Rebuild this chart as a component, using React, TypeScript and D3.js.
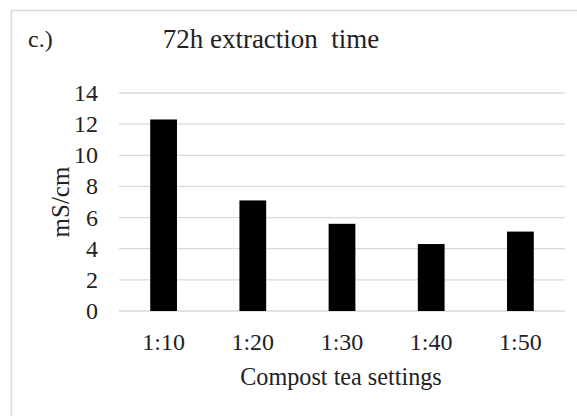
import { useEffect, useRef } from 'react'
import * as d3 from 'd3'

const categories = ['1:10', '1:20', '1:30', '1:40', '1:50']
const conductivity = [12.3, 7.1, 5.6, 4.3, 5.1]
const yTicks = [0, 2, 4, 6, 8, 10, 12, 14]

const W = 577
const H = 416
const FONT = '"Liberation Serif", "Times New Roman", serif'

export default function App() {
  const ref = useRef<SVGSVGElement>(null)

  useEffect(() => {
    const svg = d3.select(ref.current)
    svg.selectAll('*').remove()

    const plot = { l: 119, r: 565, t: 93, b: 311 }

    const x = d3.scaleBand().domain(categories).range([plot.l, plot.r]).padding(0)
    const y = d3.scaleLinear().domain([0, 14]).range([plot.b, plot.t])
    const barW = x.step() * 0.3

    svg.append('rect')
      .attr('x', 11.5).attr('y', 10.5)
      .attr('width', W + 20).attr('height', H + 20)
      .attr('fill', '#fff').attr('stroke', '#d9d9d9').attr('stroke-width', 1.5)

    // gridlines
    svg.append('g')
      .selectAll('line')
      .data(yTicks)
      .join('line')
      .attr('x1', plot.l).attr('x2', plot.r)
      .attr('y1', d => y(d)).attr('y2', d => y(d))
      .attr('stroke', '#d9d9d9').attr('stroke-width', 1.3)

    // y tick labels
    svg.append('g')
      .selectAll('text')
      .data(yTicks)
      .join('text')
      .attr('x', 98).attr('y', d => y(d) + 8)
      .attr('text-anchor', 'end')
      .attr('font-family', FONT).attr('font-size', 24).attr('fill', '#222')
      .text(d => d)

    // bars
    svg.append('g')
      .selectAll('rect')
      .data(conductivity)
      .join('rect')
      .attr('x', (d, i) => x(categories[i])! + x.step() / 2 - barW / 2)
      .attr('y', d => y(d))
      .attr('width', barW)
      .attr('height', d => y(0) - y(d))
      .attr('fill', '#000')

    // x labels
    svg.append('g')
      .selectAll('text')
      .data(categories)
      .join('text')
      .attr('x', d => x(d)! + x.step() / 2)
      .attr('y', 350)
      .attr('text-anchor', 'middle')
      .attr('font-family', FONT).attr('font-size', 24).attr('fill', '#222')
      .text(d => d)

    svg.append('text')
      .attr('x', 341).attr('y', 385)
      .attr('text-anchor', 'middle')
      .attr('font-family', FONT).attr('font-size', 24.2).attr('fill', '#222')
      .text('Compost tea settings')

    svg.append('text')
      .attr('transform', `translate(69,202) rotate(-90)`)
      .attr('text-anchor', 'middle')
      .attr('font-family', FONT).attr('font-size', 25).attr('fill', '#222')
      .text('mS/cm')

    svg.append('text')
      .attr('x', 271).attr('y', 48)
      .attr('text-anchor', 'middle')
      .attr('font-family', FONT).attr('font-size', 27).attr('fill', '#222')
      .style('white-space', 'pre')
      .text('72h extraction  time')

    svg.append('text')
      .attr('x', 28).attr('y', 47)
      .attr('font-family', FONT).attr('font-size', 24).attr('fill', '#222')
      .text('c.)')
  }, [])

  return (
    <svg
      ref={ref}
      width={W}
      height={H}
      style={{ position: 'absolute', left: 0, top: 0, display: 'block', background: '#fff' }}
    />
  )
}
